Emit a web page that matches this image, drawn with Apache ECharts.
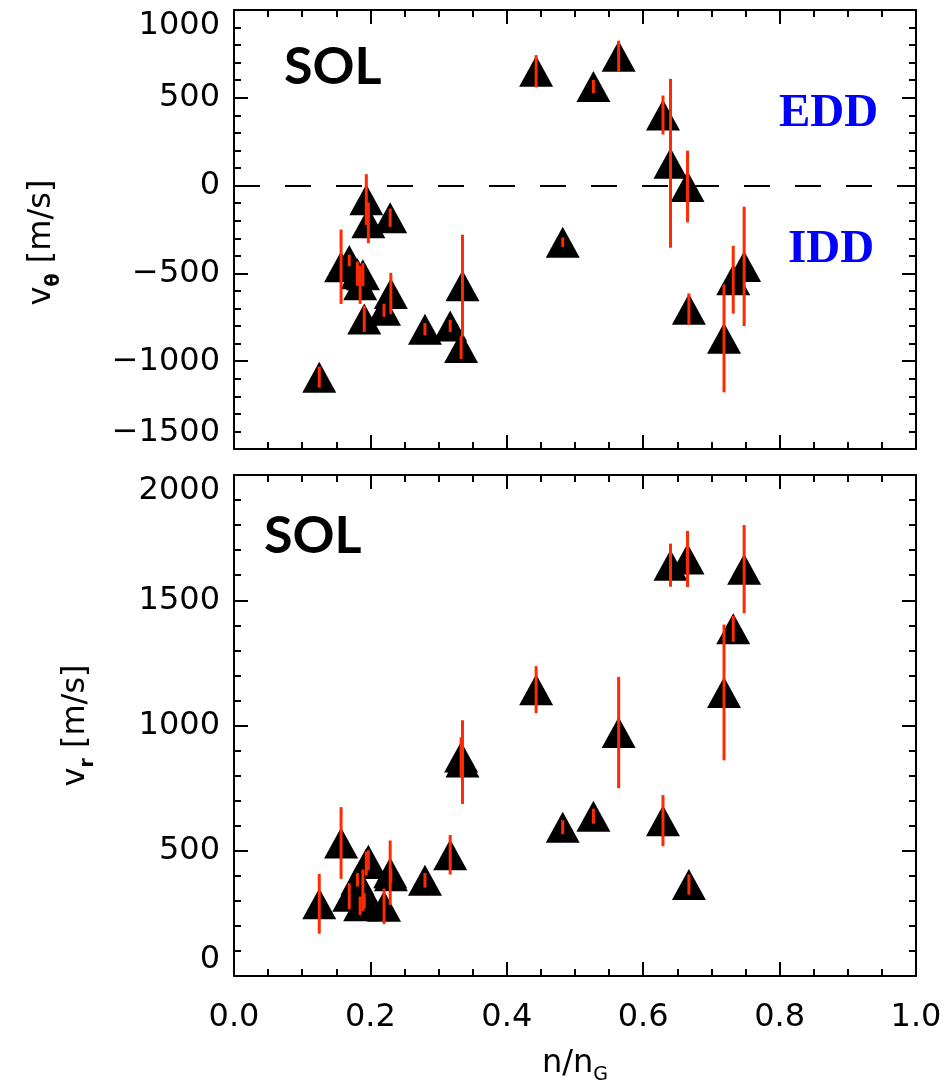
<!DOCTYPE html>
<html><head><meta charset="utf-8">
<script src="https://cdn.jsdelivr.net/npm/echarts@6/dist/echarts.min.js"></script>
<style>html,body{margin:0;padding:0;background:#fff}#c{width:948px;height:1086px}</style>
</head><body><div id="c"></div>
<script>
// n/nG (shared by both panels)
const nG = [0.125,0.157,0.169,0.181,0.185,0.189,0.191,0.194,0.197,0.220,0.229,0.230,0.280,0.317,0.333,0.335,0.443,0.482,0.527,0.564,0.629,0.640,0.665,0.667,0.7185,0.732,0.748];
// poloidal velocity v_theta [m/s] and its error
const vTheta    = [-1091,-462,-426,-502,-565,-507,-759,-80,-212,-710,-183,-614,-818,-799,-922,-570,651,-322,564,737,402,127,-5,-704,-870,-536,-460];
const vThetaErr = [60,212,33,69,109,66,74,145,116,37,52,117,35,35,65,290,92,27,38,88,111,481,204,90,307,193,340];
// radial velocity v_r [m/s] and its error
const vR    = [288,531,318,384,280,342,300,449,462,278,412,400,382,484,874,854,1143,594,638,972,620,1640,1665,365,1132,1386,1624];
const vRErr = [119,143,52,27,37,83,30,48,40,71,129,30,29,79,79,167,94,28,30,222,102,86,112,40,271,52,176];
// axis ranges / tick steps
const xRange = [0, 1], xStep = 0.2;
const vThetaRange = [-1500, 1000], vRRange = [0, 2000], yStep = 500;

const FONT = 'DejaVu Sans';
const lineCol = '#000';
const errCol = '#ff2a00';

function fmtY(v){ return v < 0 ? '\u2212' + Math.abs(v) : String(v); }

function xAx(grid, pos, showLabel, name){
  return {
    type:'value', gridIndex:grid, position:pos, min:xRange[0], max:xRange[1], interval:xStep,
    axisLine:{onZero:false, lineStyle:{color:lineCol, width:2}},
    axisTick:{show:true, inside:true, length:14, lineStyle:{color:lineCol, width:2}},
    minorTick:{show:true, splitNumber:4, length:7, lineStyle:{color:lineCol, width:2}},
    splitLine:{show:false}, minorSplitLine:{show:false},
    axisLabel:{show:showLabel, formatter:v=>v.toFixed(1), fontFamily:FONT, fontSize:32, color:'#000', margin:26},
    name: name || '', nameLocation:'middle', nameGap:66,
    nameTextStyle:{fontFamily:FONT, fontSize:32, color:'#000',
      rich:{s:{fontFamily:FONT, fontSize:19, color:'#000', verticalAlign:'bottom', padding:[24,0,0,0]}}}
  };
}
function yAx(grid, pos, range, showLabel, name, gap, pad){
  return {
    type:'value', gridIndex:grid, position:pos, min:range[0], max:range[1], interval:yStep,
    axisLine:{onZero:false, lineStyle:{color:lineCol, width:2}},
    axisTick:{show:true, inside:true, length:14, lineStyle:{color:lineCol, width:2}},
    minorTick:{show:true, splitNumber:5, length:7, lineStyle:{color:lineCol, width:2}},
    splitLine:{show:false}, minorSplitLine:{show:false},
    axisLabel:{show:showLabel, formatter:fmtY, fontFamily:FONT, fontSize:32, color:'#000', margin:14,
      verticalAlignMaxLabel:'top', verticalAlignMinLabel:'bottom'},
    name: name || '', nameLocation:'middle', nameRotate:90, nameGap:gap||0,
    nameTextStyle:{fontFamily:FONT, fontSize:32, color:'#000', padding:pad||0,
      rich:{s:{fontFamily:FONT, fontSize:19, fontWeight:'bold', color:'#000', verticalAlign:'bottom', padding:[26,0,0,0]}}}
  };
}

function errRender(params, api){
  const x = api.value(0), y = api.value(1), e = api.value(2);
  const p1 = api.coord([x, y - e]), p2 = api.coord([x, y + e]);
  return {type:'line', shape:{x1:p1[0], y1:p1[1], x2:p2[0], y2:p2[1]},
          style:{stroke:errCol, lineWidth:3}};
}

const topPts = nG.map((x,i)=>[x, vTheta[i]]);
const topErr = nG.map((x,i)=>[x, vTheta[i], vThetaErr[i]]);
const botPts = nG.map((x,i)=>[x, vR[i]]);
const botErr = nG.map((x,i)=>[x, vR[i], vRErr[i]]);

const chart = echarts.init(document.getElementById('c'), null, {renderer:'canvas'});
chart.setOption({
  animation:false,
  backgroundColor:'#fff',
  grid:[
    {left:234, top:10, width:682, height:439},
    {left:234, top:475, width:682, height:503}
  ],
  xAxis:[
    xAx(0,'bottom',false),
    xAx(0,'top',false),
    xAx(1,'bottom',true,'n/n{s|G}'),
    xAx(1,'top',false)
  ],
  yAxis:[
    yAx(0,'left',vThetaRange,true,'v{s|\u03B8} [m/s]',170,[0,26,0,0]),
    yAx(0,'right',vThetaRange,false),
    yAx(1,'left',vRRange,true,'v{s|r} [m/s]',136),
    yAx(1,'right',vRRange,false)
  ],
  series:[
    {type:'scatter', xAxisIndex:0, yAxisIndex:0, data:topPts, symbol:'triangle', symbolSize:[34,31],
     itemStyle:{color:'#000', opacity:1}, z:2,
     markLine:{silent:true, symbol:['none','none'], label:{show:false},
       lineStyle:{color:'#000', width:2, type:[26,25], opacity:1}, data:[{yAxis:0}]}},
    {type:'custom', xAxisIndex:0, yAxisIndex:0, data:topErr, renderItem:errRender, z:3},
    {type:'scatter', xAxisIndex:2, yAxisIndex:2, data:botPts, symbol:'triangle', symbolSize:[34,31],
     itemStyle:{color:'#000', opacity:1}, z:2},
    {type:'custom', xAxisIndex:2, yAxisIndex:2, data:botErr, renderItem:errRender, z:3}
  ],
  graphic:[
    {type:'text', left:284, top:41, style:{text:'SOL', font:'bold 52px Lato', fill:'#000'}},
    {type:'text', left:264, top:510, style:{text:'SOL', font:'bold 52px Lato', fill:'#000'}},
    {type:'text', left:779, top:90, style:{text:'EDD', font:'bold 47px "Liberation Serif"', fill:'#0000ff'}},
    {type:'text', left:788, top:226, style:{text:'IDD', font:'bold 47px "Liberation Serif"', fill:'#0000ff'}}
  ]
});
</script>
</body></html>
